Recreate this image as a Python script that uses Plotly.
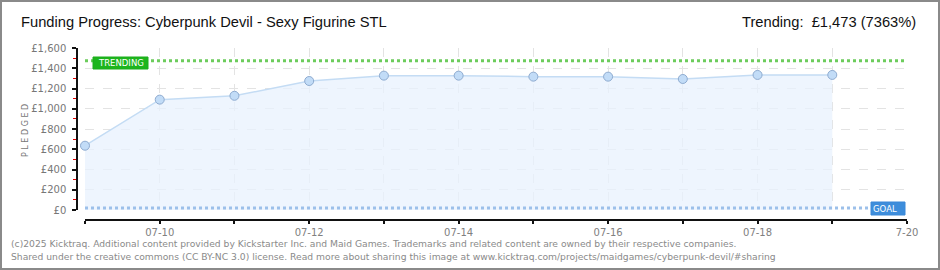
import plotly.graph_objects as go

# ---- data ----
dates = ["2025-07-09", "2025-07-10", "2025-07-11", "2025-07-12", "2025-07-13", "2025-07-14",
         "2025-07-15", "2025-07-16", "2025-07-17", "2025-07-18", "2025-07-19"]
pledged = [635, 1090, 1128, 1274, 1327, 1327, 1317, 1317, 1294, 1334, 1334]
trending = 1473
goal = 20
x_tick_vals = ["2025-07-09", "2025-07-10", "2025-07-11", "2025-07-12", "2025-07-13", "2025-07-14",
               "2025-07-15", "2025-07-16", "2025-07-17", "2025-07-18", "2025-07-19", "2025-07-20"]
x_tick_text = ["", "07-10", "", "07-12", "", "07-14", "", "07-16", "", "07-18", "", "7-20"]
y_tick_vals = [0, 200, 400, 600, 800, 1000, 1200, 1400, 1600]
y_tick_text = ["£0", "£200", "£400", "£600", "£800", "£1,000", "£1,200", "£1,400", "£1,600"]
x_range = ["2025-07-09", "2025-07-20"]

title = "Funding Progress: Cyberpunk Devil - Sexy Figurine STL"
trend_text = "Trending:  £1,473 (7363%)"
footer1 = ("(c)2025 Kicktraq. Additional content provided by Kickstarter Inc. and Maid Games. "
           "Trademarks and related content are owned by their respective companies.")
footer2 = ("Shared under the creative commons (CC BY-NC 3.0) license. Read more about sharing this "
           "image at www.kicktraq.com/projects/maidgames/cyberpunk-devil/#sharing")

W, H = 940, 270
ML, MR, MT, MB = 77, 33, 48, 50
PW, PH = W - ML - MR, H - MT - MB


def px(x):
    return (x - ML) / PW


def py(y):
    return (H - MB - y) / PH


fig = go.Figure()

# pledged area
fig.add_trace(go.Scatter(
    x=dates, y=pledged, mode="lines+markers", fill="tozeroy",
    fillcolor="rgba(232,242,253,0.75)",
    line=dict(color="#c4dcf4", width=1.5),
    marker=dict(size=9, color="#c2dcf7", line=dict(color="#8eabd0", width=1)),
    cliponaxis=False,
    hoverinfo="skip", showlegend=False,
))

# trending line
fig.add_trace(go.Scatter(
    x=x_range, y=[trending, trending], mode="lines",
    line=dict(color="#6ccc5c", width=3, dash="dot"),
    hoverinfo="skip", showlegend=False,
))
# goal line
fig.add_trace(go.Scatter(
    x=x_range, y=[goal, goal], mode="lines",
    line=dict(color="#9cc0ea", width=3, dash="dot"),
    hoverinfo="skip", showlegend=False,
))

font_small = "DejaVu Sans"
font_title = "Liberation Sans"
shapes = [
    # outer frame
    dict(type="rect", xref="paper", yref="paper", x0=px(1), x1=px(W - 1), y0=py(H - 1), y1=py(1),
         line=dict(color="#8a8a8a", width=2), fillcolor="rgba(0,0,0,0)", layer="above"),
    # TRENDING label box
    dict(type="rect", xref="paper", yref="paper", x0=px(93), x1=px(148), y0=py(69), y1=py(57),
         line=dict(color="#1cae1c", width=1), fillcolor="#1db51d", layer="above"),
    # GOAL label box
    dict(type="rect", xref="paper", yref="paper", x0=px(871), x1=px(905), y0=py(215), y1=py(202),
         line=dict(color="#3a88d8", width=1), fillcolor="#3d8ddb", layer="above"),
]

annotations = [
    dict(text=title, xref="paper", yref="paper", x=px(19), y=py(22), xanchor="left", yanchor="middle",
         showarrow=False, font=dict(family=font_title, size=14.7, color="#111")),
    dict(text=trend_text, xref="paper", yref="paper", x=px(918), y=py(22), xanchor="right", yanchor="middle",
         showarrow=False, font=dict(family=font_title, size=14.7, color="#111")),
    dict(text=footer1, xref="paper", yref="paper", x=px(9), y=py(243), xanchor="left", yanchor="middle",
         showarrow=False, font=dict(family=font_small, size=9.2, color="#8a8a8a")),
    dict(text=footer2, xref="paper", yref="paper", x=px(9), y=py(256), xanchor="left", yanchor="middle",
         showarrow=False, font=dict(family=font_small, size=9.2, color="#8a8a8a")),
    dict(text="P L E D G E D", xref="paper", yref="paper", x=px(25), y=py(130), xanchor="center", yanchor="middle",
         textangle=-90, showarrow=False, font=dict(family=font_small, size=8, color="#777")),
    dict(text="TRENDING", xref="paper", yref="paper", x=px(120.5), y=py(63), xanchor="center", yanchor="middle",
         showarrow=False, font=dict(family=font_small, size=8.5, color="white")),
    dict(text="GOAL", xref="paper", yref="paper", x=px(885), y=py(208.5), xanchor="center", yanchor="middle",
         showarrow=False, font=dict(family=font_small, size=8.5, color="white")),
]

fig.update_layout(
    width=W, height=H,
    margin=dict(l=ML, r=MR, t=MT, b=MB),
    paper_bgcolor="white", plot_bgcolor="white",
    shapes=shapes, annotations=annotations,
    xaxis=dict(
        type="date", range=x_range, domain=[px(85), 1], anchor="free", position=0,
        tickvals=x_tick_vals, ticktext=x_tick_text,
        showline=True, linecolor="#111", linewidth=1.5,
        ticks="outside", ticklen=3, tickcolor="#111", tickwidth=1.5,
        ticklabelstandoff=0,
        showgrid=True, gridcolor="#e3e3e3", griddash="dash", gridwidth=1,
        zeroline=False,
        tickfont=dict(family=font_small, size=10, color="#808080"),
    ),
    yaxis=dict(
        range=[0, 1600], domain=[py(210), 1], anchor="free", position=0,
        tickvals=y_tick_vals, ticktext=y_tick_text,
        showline=True, linecolor="#111", linewidth=1.5,
        ticks="outside", ticklen=4, tickcolor="#111", tickwidth=1.5,
        ticklabelstandoff=4,
        minor=dict(dtick=100, ticks="outside", ticklen=3, tickcolor="#e00000", tickwidth=1, showgrid=False),
        showgrid=True, gridcolor="#e3e3e3", griddash="dash", gridwidth=1,
        zeroline=False,
        tickfont=dict(family=font_small, size=10, color="#777"),
    ),
)

fig.write_html("out.html")
